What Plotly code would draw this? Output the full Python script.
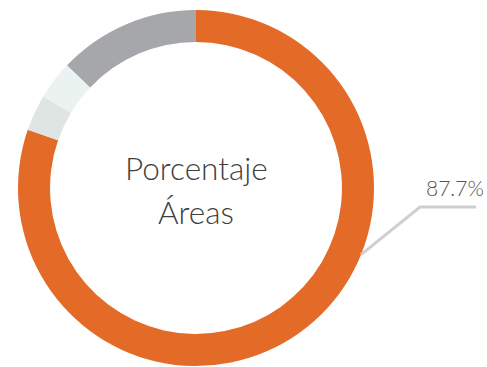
import math
import plotly.graph_objects as go

labels = ["Área A", "Área B", "Área C", "Área D"]
values = [80.3, 3.3, 3.5, 12.9]
colors = ["#E36A27", "#DFE5E2", "#EAF3F0", "#A6A7AB"]
center_text = ["Porcentaje", "Áreas"]
label_text = "87.7%"

W, H = 487, 367
cx, cy, R = 196, 188, 178

fig = go.Figure(go.Pie(
    labels=labels, values=values, sort=False, direction="clockwise", rotation=0,
    hole=0.82, marker=dict(colors=colors, line=dict(width=0)),
    textinfo="none", hoverinfo="label+percent", showlegend=False,
    domain=dict(x=[(cx - R) / W, (cx + R) / W], y=[(H - cy - R) / H, (H - cy + R) / H]),
))

font_family = "Lato, 'Open Sans', sans-serif"
px = lambda x: x / W
py = lambda y: 1 - y / H
fig.add_annotation(x=px(cx), y=py(168), xref="paper", yref="paper", text=center_text[0],
                   xanchor="center", yanchor="middle", showarrow=False,
                   font=dict(size=31.5, color="#404040", family=font_family, weight=300))
fig.add_annotation(x=px(cx), y=py(212), xref="paper", yref="paper", text=center_text[1],
                   xanchor="center", yanchor="middle", showarrow=False,
                   font=dict(size=31.5, color="#404040", family=font_family, weight=300))

# leader line from outer edge of the orange slice
ang = math.radians(112)
sx, sy = cx + R * math.sin(ang), cy - R * math.cos(ang)
fig.add_shape(type="path", xref="paper", yref="paper",
              path=f"M {px(sx)} {py(sy)} L {px(420)} {py(207)} L {px(476)} {py(207)}",
              line=dict(color="#CFCFCF", width=3))
fig.add_annotation(x=px(455), y=py(187), xref="paper", yref="paper", text=label_text,
                   xanchor="center", yanchor="middle", showarrow=False,
                   font=dict(size=21, color="#555555", family=font_family, weight=300))

fig.update_layout(width=W, height=H, margin=dict(l=0, r=0, t=0, b=0),
                  paper_bgcolor="white", plot_bgcolor="white")
fig.write_html("out.html", config={"displayModeBar": False},
               post_script="document.body.style.margin='0';")
